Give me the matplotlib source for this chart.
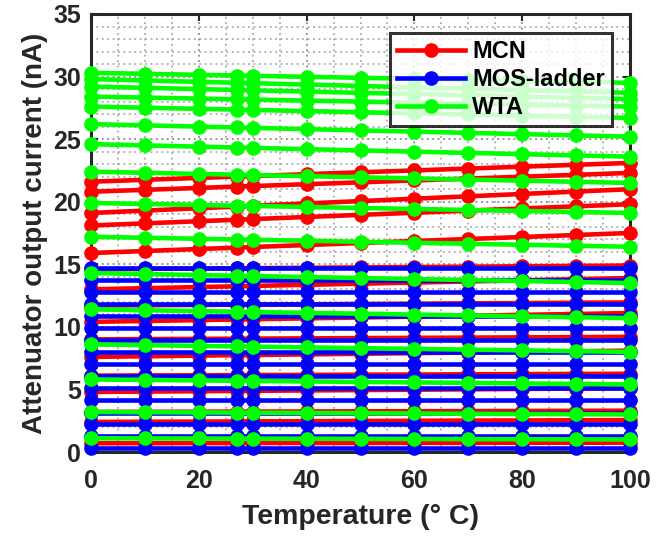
import matplotlib
matplotlib.use("Agg")
import matplotlib.pyplot as plt
from matplotlib.ticker import MultipleLocator

plt.rcParams['font.family'] = ['Liberation Sans', 'DejaVu Sans']
plt.rcParams['font.weight'] = 'bold'

# temperature sweep (deg C)
temps = [0, 10, 20, 27, 30, 40, 50, 60, 70, 80, 90, 100]

# attenuator output current (nA), one row per attenuation code
mcn = [
    [21.60, 21.75, 21.90, 22.01, 22.05, 22.20, 22.35, 22.50, 22.65, 22.80, 22.95, 23.10],
    [20.80, 20.95, 21.10, 21.21, 21.25, 21.40, 21.55, 21.70, 21.85, 22.00, 22.15, 22.30],
    [19.10, 19.29, 19.48, 19.61, 19.67, 19.86, 20.05, 20.24, 20.43, 20.62, 20.81, 21.00],
    [18.10, 18.27, 18.44, 18.56, 18.61, 18.78, 18.95, 19.12, 19.29, 19.46, 19.63, 19.80],
    [15.90, 16.06, 16.22, 16.33, 16.38, 16.54, 16.70, 16.86, 17.02, 17.18, 17.34, 17.50],
    [14.60, 14.63, 14.66, 14.68, 14.69, 14.72, 14.75, 14.78, 14.81, 14.84, 14.87, 14.90],
    [13.00, 13.09, 13.18, 13.24, 13.27, 13.36, 13.45, 13.54, 13.63, 13.72, 13.81, 13.90],
    [11.70, 11.73, 11.75, 11.77, 11.78, 11.80, 11.83, 11.85, 11.88, 11.90, 11.93, 11.95],
    [10.40, 10.47, 10.54, 10.59, 10.61, 10.68, 10.75, 10.82, 10.89, 10.96, 11.03, 11.10],
    [9.00, 9.02, 9.04, 9.05, 9.06, 9.08, 9.10, 9.12, 9.14, 9.16, 9.18, 9.20],
    [7.60, 7.65, 7.70, 7.74, 7.75, 7.80, 7.85, 7.90, 7.95, 8.00, 8.05, 8.10],
    [6.10, 6.12, 6.13, 6.14, 6.15, 6.16, 6.18, 6.19, 6.21, 6.22, 6.24, 6.25],
    [4.80, 4.83, 4.86, 4.88, 4.89, 4.92, 4.95, 4.98, 5.01, 5.04, 5.07, 5.10],
    [3.20, 3.21, 3.22, 3.23, 3.23, 3.24, 3.25, 3.26, 3.27, 3.28, 3.29, 3.30],
    [2.40, 2.42, 2.43, 2.44, 2.45, 2.46, 2.48, 2.49, 2.51, 2.52, 2.54, 2.55],
    [0.70, 0.70, 0.71, 0.71, 0.72, 0.72, 0.72, 0.73, 0.73, 0.74, 0.74, 0.75],
]

mos_ladder = [
    [14.70, 14.70, 14.70, 14.70, 14.70, 14.70, 14.70, 14.70, 14.70, 14.70, 14.70, 14.70],
    [13.75, 13.75, 13.75, 13.75, 13.75, 13.75, 13.75, 13.75, 13.75, 13.75, 13.75, 13.75],
    [12.80, 12.80, 12.80, 12.80, 12.80, 12.80, 12.80, 12.80, 12.80, 12.80, 12.80, 12.80],
    [11.80, 11.80, 11.80, 11.80, 11.80, 11.80, 11.80, 11.80, 11.80, 11.80, 11.80, 11.80],
    [10.85, 10.85, 10.85, 10.85, 10.85, 10.85, 10.85, 10.85, 10.85, 10.85, 10.85, 10.85],
    [9.90, 9.90, 9.90, 9.90, 9.90, 9.90, 9.90, 9.90, 9.90, 9.90, 9.90, 9.90],
    [8.95, 8.95, 8.95, 8.95, 8.95, 8.95, 8.95, 8.95, 8.95, 8.95, 8.95, 8.95],
    [8.00, 8.00, 8.00, 8.00, 8.00, 8.00, 8.00, 8.00, 8.00, 8.00, 8.00, 8.00],
    [7.00, 7.00, 7.00, 7.00, 7.00, 7.00, 7.00, 7.00, 7.00, 7.00, 7.00, 7.00],
    [6.05, 6.05, 6.05, 6.05, 6.05, 6.05, 6.05, 6.05, 6.05, 6.05, 6.05, 6.05],
    [5.10, 5.10, 5.10, 5.10, 5.10, 5.10, 5.10, 5.10, 5.10, 5.10, 5.10, 5.10],
    [4.15, 4.15, 4.15, 4.15, 4.15, 4.15, 4.15, 4.15, 4.15, 4.15, 4.15, 4.15],
    [3.15, 3.15, 3.15, 3.15, 3.15, 3.15, 3.15, 3.15, 3.15, 3.15, 3.15, 3.15],
    [2.20, 2.20, 2.20, 2.20, 2.20, 2.20, 2.20, 2.20, 2.20, 2.20, 2.20, 2.20],
    [1.25, 1.25, 1.25, 1.25, 1.25, 1.25, 1.25, 1.25, 1.25, 1.25, 1.25, 1.25],
    [0.30, 0.30, 0.30, 0.30, 0.30, 0.30, 0.30, 0.30, 0.30, 0.30, 0.30, 0.30],
]

wta = [
    [30.30, 30.22, 30.14, 30.08, 30.06, 29.98, 29.90, 29.82, 29.74, 29.66, 29.58, 29.50],
    [29.80, 29.69, 29.58, 29.50, 29.47, 29.36, 29.25, 29.14, 29.03, 28.92, 28.81, 28.70],
    [29.20, 29.10, 29.00, 28.93, 28.90, 28.80, 28.70, 28.60, 28.50, 28.40, 28.30, 28.20],
    [28.40, 28.32, 28.24, 28.18, 28.16, 28.08, 28.00, 27.92, 27.84, 27.76, 27.68, 27.60],
    [27.60, 27.51, 27.42, 27.36, 27.33, 27.24, 27.15, 27.06, 26.97, 26.88, 26.79, 26.70],
    [26.20, 26.10, 26.00, 25.93, 25.90, 25.80, 25.70, 25.60, 25.50, 25.40, 25.30, 25.20],
    [24.60, 24.50, 24.40, 24.33, 24.30, 24.20, 24.10, 24.00, 23.90, 23.80, 23.70, 23.60],
    [22.40, 22.31, 22.22, 22.16, 22.13, 22.04, 21.95, 21.86, 21.77, 21.68, 21.59, 21.50],
    [19.90, 19.82, 19.74, 19.68, 19.66, 19.58, 19.50, 19.42, 19.34, 19.26, 19.18, 19.10],
    [17.20, 17.12, 17.04, 16.98, 16.96, 16.88, 16.80, 16.72, 16.64, 16.56, 16.48, 16.40],
    [14.30, 14.22, 14.14, 14.08, 14.06, 13.98, 13.90, 13.82, 13.74, 13.66, 13.58, 13.50],
    [11.40, 11.33, 11.26, 11.21, 11.19, 11.12, 11.05, 10.98, 10.91, 10.84, 10.77, 10.70],
    [8.60, 8.54, 8.48, 8.44, 8.42, 8.36, 8.30, 8.24, 8.18, 8.12, 8.06, 8.00],
    [5.80, 5.76, 5.72, 5.69, 5.68, 5.64, 5.60, 5.56, 5.52, 5.48, 5.44, 5.40],
    [3.20, 3.18, 3.16, 3.15, 3.14, 3.12, 3.10, 3.08, 3.06, 3.04, 3.02, 3.00],
    [1.10, 1.09, 1.08, 1.07, 1.07, 1.06, 1.05, 1.04, 1.03, 1.02, 1.01, 1.00],
]

series = [("MCN", mcn, "#ff0000"), ("MOS-ladder", mos_ladder, "#0000ff"), ("WTA", wta, "#00ff00")]

fig, ax = plt.subplots(figsize=(6.62, 5.36), dpi=100)
fig.subplots_adjust(left=0.1375, right=0.9517, bottom=0.1567, top=0.9739)

handles = []
for z, (name, rows, color) in enumerate(series):
    for i, row in enumerate(rows):
        ln, = ax.plot(temps, row, '-o', color=color, lw=3.3, ms=9.5,
                      mec=color, mfc=color, clip_on=False, zorder=3 + z)
        if i == 0:
            handles.append(ln)

ax.set_xlim(0, 100)
ax.set_ylim(0, 35)
ax.xaxis.set_major_locator(MultipleLocator(20))
ax.yaxis.set_major_locator(MultipleLocator(5))
ax.xaxis.set_minor_locator(MultipleLocator(5))
ax.yaxis.set_minor_locator(MultipleLocator(1))

ax.grid(which='major', color='#888888', linestyle=(0, (1, 2)), lw=1.3)
ax.grid(which='minor', color='#aaaaaa', linestyle=(0, (1, 2)), lw=1.3)
ax.set_axisbelow(True)

ax.tick_params(which='major', direction='in', length=5, width=1.5, top=True, right=True,
               labelsize=18, colors='#262626')
ax.tick_params(axis='x', which='major', pad=12)
ax.tick_params(axis='y', which='major', pad=7)
ax.tick_params(which='minor', length=0, top=True, right=True)
for s in ax.spines.values():
    s.set_linewidth(2.2)
    s.set_color('#262626')
    s.set_zorder(2.5)

ax.set_xlabel("Temperature (° C)", fontsize=20.5, fontweight='bold', color='#262626', labelpad=8)
ax.set_ylabel("Attenuator output current (nA)", fontsize=20, fontweight='bold', color='#262626', labelpad=4)

leg = ax.legend(handles, [s[0] for s in series], loc='upper right',
                bbox_to_anchor=(0.967, 0.957), fontsize=17, frameon=True, fancybox=False,
                handlelength=2.9, borderpad=0.3, labelspacing=0.22, handletextpad=0.3,
                borderaxespad=0)
leg.get_frame().set_edgecolor('black')
leg.get_frame().set_linewidth(2.2)
leg.set_zorder(10)
for t in leg.get_texts():
    t.set_fontweight('bold')

fig.savefig("out.png", dpi=100)
